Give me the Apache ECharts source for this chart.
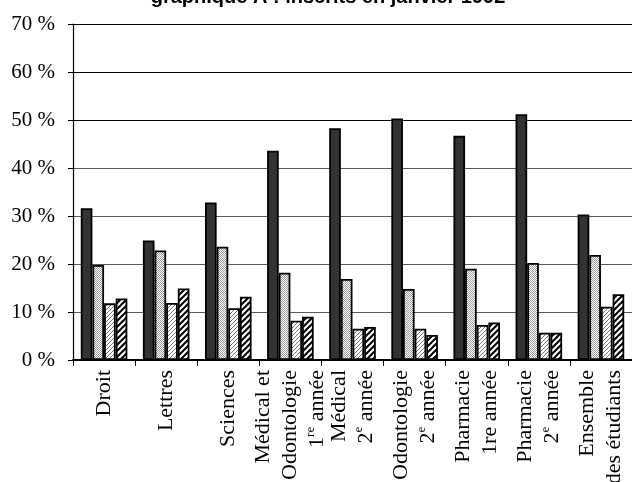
<!DOCTYPE html>
<html>
<head>
<meta charset="utf-8">
<script src="https://cdn.jsdelivr.net/npm/echarts@6/dist/echarts.min.js"></script>
<style>
  html, body { margin: 0; padding: 0; background: #fff; }
  #chart { width: 632px; height: 482px; }
</style>
</head>
<body>
<div id="chart"></div>
<script>
// Categories (line breaks and {s|..} superscript markup are part of the labels)
const categories = [
  'Droit',
  'Lettres',
  'Sciences',
  'Médical et\nOdontologie\n1{s|re} année',
  'Médical\n2{s|e} année',
  'Odontologie\n2{s|e} année',
  'Pharmacie\n1re année',
  'Pharmacie\n2{s|e} année',
  'Ensemble\ndes étudiants'
];

// Percentages for the four groups of bars
const serieA = [31.6, 24.9, 32.8, 43.6, 48.3, 50.3, 46.7, 51.2, 30.3];
const serieB = [19.8, 22.8, 23.6, 18.2, 16.9, 14.8, 19.0, 20.2, 21.9];
const serieC = [11.8, 11.9, 10.8, 8.2, 6.5, 6.5, 7.3, 5.7, 11.1];
const serieD = [12.8, 14.9, 13.2, 9.0, 6.9, 5.2, 7.8, 5.7, 13.7];

// Value axis ticks
const yMin = 0;
const yMax = 70;
const yStep = 10;

const titleText = 'graphique A : inscrits en janvier 1992';

// --- fill patterns -------------------------------------------------------
function stipple() {
  const c = document.createElement('canvas');
  c.width = 2; c.height = 2;
  const g = c.getContext('2d');
  g.fillStyle = '#fff'; g.fillRect(0, 0, 2, 2);
  g.fillStyle = '#9a9a9a';
  g.fillRect(0, 0, 1, 1);
  g.fillRect(1, 1, 1, 1);
  return c;
}

function hatch(size, lineW, color) {
  const c = document.createElement('canvas');
  c.width = size; c.height = size;
  const g = c.getContext('2d');
  g.fillStyle = '#fff'; g.fillRect(0, 0, size, size);
  g.strokeStyle = color;
  g.lineWidth = lineW;
  g.lineCap = 'square';
  g.beginPath();
  g.moveTo(0, size); g.lineTo(size, 0);
  g.moveTo(-size / 2, size / 2); g.lineTo(size / 2, -size / 2);
  g.moveTo(size / 2, size * 1.5); g.lineTo(size * 1.5, size / 2);
  g.stroke();
  return c;
}

const serif = '"Liberation Serif", "Times New Roman", serif';

function barSeries(name, data, fill) {
  return {
    name: name,
    type: 'bar',
    data: data,
    barGap: '0%',
    barCategoryGap: '25%',
    silent: true,
    itemStyle: { color: fill, borderColor: '#000', borderWidth: 1.8 }
  };
}

const chart = echarts.init(document.getElementById('chart'), null, { renderer: 'canvas' });

chart.setOption({
  animation: false,
  backgroundColor: '#fff',
  graphic: [{
    type: 'text',
    x: 328,
    y: -2.5,
    silent: true,
    style: {
      text: titleText,
      font: 'bold 20px "Liberation Sans", Arial, sans-serif',
      fill: '#000',
      align: 'center',
      verticalAlign: 'middle'
    }
  }],
  grid: {
    left: 73,
    right: 0,
    top: 24,
    bottom: 122,
    containLabel: false,
    outerBoundsMode: 'none'
  },
  xAxis: {
    type: 'category',
    data: categories,
    axisLine: { lineStyle: { color: '#000', width: 2 } },
    axisTick: { show: true, length: 6, alignWithLabel: false, lineStyle: { color: '#000', width: 1 } },
    axisLabel: {
      interval: 0,
      rotate: 90,
      margin: 10,
      color: '#000',
      fontFamily: serif,
      fontSize: 22,
      lineHeight: 27,
      rich: {
        s: { fontFamily: serif, fontSize: 13, lineHeight: 13, verticalAlign: 'top', color: '#000' }
      }
    },
    splitLine: { show: false }
  },
  yAxis: {
    type: 'value',
    min: yMin,
    max: yMax,
    interval: yStep,
    axisLine: { show: true, lineStyle: { color: '#000', width: 1.2 } },
    axisTick: { show: true, length: 5, lineStyle: { color: '#000', width: 1 } },
    axisLabel: {
      formatter: '{value} %',
      margin: 18,
      color: '#000',
      fontFamily: serif,
      fontSize: 21
    },
    splitLine: {
      show: true,
      lineStyle: {
        color: ['#000', '#5a5a5a', '#5a5a5a', '#5a5a5a', '#5a5a5a', '#000', '#000', '#000'],
        width: 1.2
      }
    }
  },
  series: [
    barSeries('A', serieA, '#333333'),
    barSeries('B', serieB, { image: stipple(), repeat: 'repeat' }),
    barSeries('C', serieC, { image: hatch(4, 1, '#7a7a7a'), repeat: 'repeat' }),
    barSeries('D', serieD, { image: hatch(6, 2, '#000'), repeat: 'repeat' })
  ]
});
</script>
</body>
</html>
